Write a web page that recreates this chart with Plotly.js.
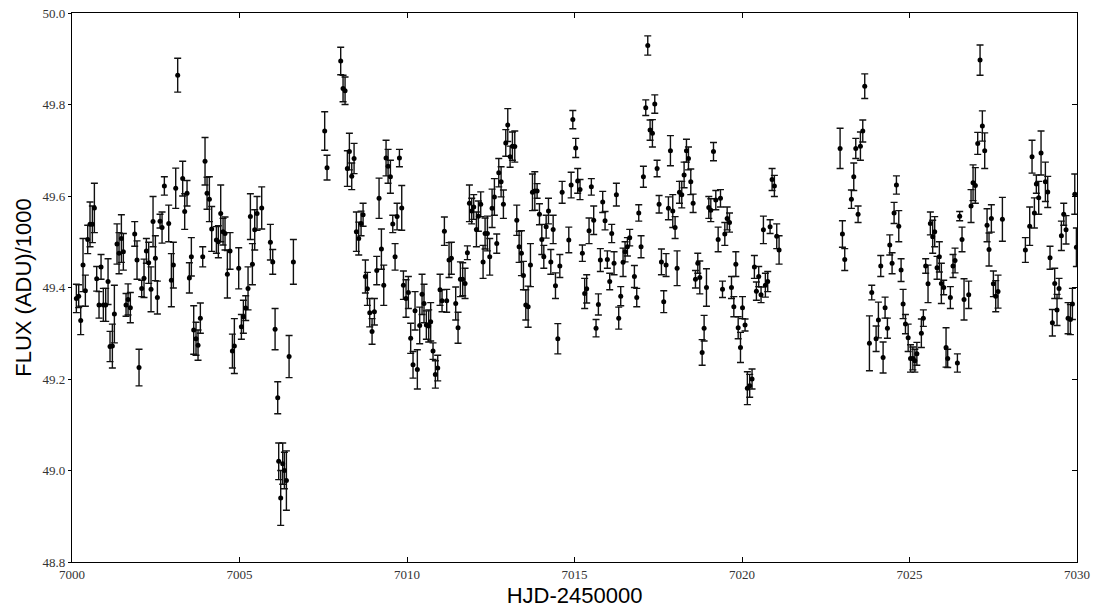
<!DOCTYPE html>
<html>
<head>
<meta charset="utf-8">
<script src="https://cdn.plot.ly/plotly-3.0.1.min.js"></script>
<style>html,body{margin:0;padding:0;background:#fff;}#chart{width:1094px;height:610px;}</style>
</head>
<body>
<div id="chart"></div>
<script>
// HJD-2450000
const hjd = [
7000.130,7000.200,7000.260,7000.329,7000.399,7000.469,7000.538,7000.608,7000.668,7000.737,
7000.807,7000.867,7000.936,7001.006,7001.076,7001.135,7001.205,7001.265,7001.344,7001.404,
7001.474,7001.533,7001.613,7001.673,7001.742,7001.872,7001.941,7002.001,7002.081,7002.150,
7002.220,7002.290,7002.359,7002.419,7002.489,7002.549,7002.628,7002.688,7002.757,7002.887,
7002.966,7003.026,7003.096,7003.155,7003.304,7003.364,7003.434,7003.503,7003.563,7003.633,
7003.702,7003.762,7003.832,7003.902,7003.971,7004.031,7004.101,7004.170,7004.310,7004.369,
7004.439,7004.509,7004.568,7004.638,7004.718,7004.788,7004.847,
7004.976,7005.056,7005.116,7005.186,7005.255,7005.325,7005.385,7005.454,7005.524,7005.663,
7005.922,7005.992,7006.062,7006.141,7006.17,7006.23,7006.29,7006.34,7006.40,7006.480,7006.609,
7007.543,7007.613,7008.021,7008.091,7008.151,7008.220,7008.280,7008.350,7008.420,7008.489,
7008.559,7008.629,7008.689,7008.758,7008.818,7008.888,7008.957,7009.027,7009.097,7009.166,
7009.236,7009.306,7009.375,7009.435,7009.505,7009.575,7009.644,7009.704,7009.774,7009.843,7009.893,
7009.971,7010.041,7010.110,7010.180,7010.240,7010.309,7010.379,7010.449,7010.508,7010.578,
7010.648,7010.707,7010.777,7010.847,7010.917,7010.986,7011.046,7011.116,7011.185,7011.255,
7011.325,7011.454,7011.524,7011.594,7011.663,7011.733,7011.803,7011.863,7011.932,7011.992,
7012.072,7012.131,7012.201,7012.271,7012.331,7012.400,7012.470,7012.540,7012.609,7012.679,
7012.739,7012.809,7012.878,7012.948,7013.008,7013.078,7013.147,7013.217,7013.277,7013.347,
7013.416,7013.476,7013.546,7013.616,7013.685,7013.745,7013.815,7013.884,7013.954,7014.024,
7014.084,7014.154,7014.223,7014.293,7014.363,7014.432,7014.502,7014.562,7014.631,7014.830,
7014.900,7014.950,
7015.036,7015.095,7015.165,7015.235,7015.304,7015.364,7015.434,7015.503,7015.573,7015.643,
7015.713,7015.772,7015.842,7015.912,7015.981,7016.051,7016.111,7016.181,7016.250,7016.320,
7016.380,7016.450,7016.509,7016.579,7016.649,7016.788,7016.858,7016.918,7016.987,7017.057,
7017.127,7017.187,7017.256,7017.326,7017.396,7017.465,7017.525,7017.595,7017.664,7017.734,
7017.804,7017.864,7017.933,7018.003,7018.063,7018.133,7018.202,7018.272,7018.342,7018.402,
7018.471,7018.541,7018.611,7018.680,7018.740,7018.810,7018.869,7018.939,7019.009,7019.069,
7019.149,7019.218,7019.288,7019.358,7019.418,7019.487,7019.557,7019.627,7019.686,7019.756,
7019.816,7019.886,7019.955,7020.015,
7020.091,7020.160,7020.230,7020.300,7020.370,7020.430,7020.499,7020.569,7020.639,7020.698,
7020.768,7020.838,7020.898,7020.967,7021.037,7021.107,
7022.928,7022.998,7023.067,7023.266,7023.336,7023.396,7023.465,7023.535,7023.605,7023.664,
7023.804,7023.873,7024.003,7024.072,7024.142,7024.212,7024.271,7024.341,7024.411,7024.480,
7024.540,7024.610,7024.680,7024.749,7024.809,7024.879,7024.960,7025.030,7025.10,7025.16,7025.22,
7025.354,7025.414,7025.483,7025.553,7025.623,7025.692,7025.752,7025.822,7025.891,7025.951,
7026.021,7026.091,7026.14,7026.220,7026.299,7026.359,7026.43,7026.498,7026.568,7026.628,
7026.767,7026.837,7026.897,7026.966,7027.036,7027.106,7027.175,7027.245,7027.315,7027.374,
7027.444,7027.504,7027.574,7027.643,7027.773,
7028.459,7028.588,7028.658,7028.728,7028.787,7028.857,7028.927,7029.056,7029.126,7029.195,
7029.265,7029.335,7029.404,7029.464,7029.534,7029.604,7029.673,7029.733,7029.803,7029.863,
7029.933,7029.982
];

// FLUX (ADU)/1000
const flux = [
49.376,49.381,49.328,49.449,49.393,49.505,49.538,49.538,49.574,49.419,
49.362,49.445,49.362,49.362,49.413,49.271,49.272,49.342,49.495,49.475,
49.507,49.478,49.362,49.374,49.356,49.517,49.460,49.225,49.398,49.420,
49.480,49.454,49.396,49.544,49.464,49.378,49.545,49.531,49.622,49.540,
49.416,49.449,49.617,49.864,49.638,49.566,49.606,49.421,49.467,49.307,
49.288,49.274,49.333,49.467,49.676,49.606,49.593,49.528,49.504,49.500,
49.562,49.522,49.518,49.429,49.480,49.261,49.272,
49.442,49.314,49.336,49.355,49.398,49.555,49.451,49.526,49.562,49.574,
49.499,49.456,49.309,49.159,49.020,48.940,49.015,49.000,48.978,49.249,49.456,
49.742,49.662,49.895,49.835,49.830,49.660,49.697,49.643,49.682,49.522,
49.507,49.540,49.559,49.424,49.397,49.345,49.304,49.347,49.437,49.595,
49.484,49.405,49.683,49.665,49.642,49.539,49.467,49.555,49.683,49.574,49.405,
49.376,49.389,49.289,49.231,49.349,49.221,49.317,49.385,49.365,49.318,
49.316,49.325,49.261,49.210,49.224,49.395,49.371,49.523,49.371,49.460,
49.464,49.365,49.312,49.418,49.418,49.409,49.476,49.584,49.567,49.576,
49.527,49.556,49.582,49.456,49.518,49.518,49.467,49.573,49.598,49.496,
49.651,49.631,49.582,49.716,49.755,49.686,49.709,49.708,49.547,49.489,
49.475,49.426,49.362,49.358,49.449,49.608,49.611,49.611,49.560,49.505,
49.467,49.533,49.567,49.456,49.527,49.404,49.288,49.447,49.608,49.504,
49.624,49.767,
49.705,49.633,49.614,49.475,49.387,49.397,49.524,49.620,49.547,49.311,
49.363,49.460,49.587,49.546,49.461,49.413,49.518,49.453,49.603,49.333,
49.381,49.455,49.478,49.489,49.509,49.424,49.378,49.563,49.489,49.642,
49.793,49.929,49.744,49.737,49.801,49.660,49.582,49.456,49.369,49.449,
49.573,49.699,49.567,49.531,49.442,49.608,49.603,49.646,49.699,49.682,
49.631,49.584,49.418,49.453,49.422,49.258,49.311,49.400,49.575,49.569,
49.697,49.591,49.505,49.595,49.396,49.517,49.551,49.542,49.400,49.358,
49.451,49.312,49.269,49.356,
49.318,49.180,49.185,49.200,49.445,49.392,49.424,49.384,49.526,49.405,
49.413,49.533,49.636,49.622,49.512,49.482,
49.704,49.517,49.461,49.593,49.642,49.704,49.560,49.709,49.742,49.840,
49.278,49.389,49.288,49.329,49.447,49.247,49.356,49.311,49.493,49.453,
49.563,49.624,49.534,49.438,49.364,49.320,49.290,49.245,49.245,49.240,49.255,
49.300,49.333,49.447,49.408,49.540,49.511,49.522,49.443,49.467,49.409,
49.400,49.269,49.245,49.378,49.447,49.459,49.235,49.556,49.505,49.374,
49.384,49.578,49.629,49.623,49.715,49.897,49.753,49.699,49.536,49.483,
49.551,49.408,49.381,49.391,49.549,
49.482,49.534,49.686,49.563,49.626,49.596,49.694,49.631,49.609,49.465,
49.323,49.409,49.351,49.398,49.513,49.560,49.526,49.333,49.330,49.364,
49.604,49.488
];

// 1-sigma uncertainty
const fluxErr = [
0.031,0.025,0.031,0.058,0.034,0.031,0.049,0.040,0.054,0.027,
0.029,0.027,0.036,0.036,0.050,0.033,0.048,0.063,0.044,0.045,
0.052,0.040,0.025,0.034,0.033,0.027,0.042,0.040,0.018,0.042,
0.027,0.045,0.049,0.055,0.049,0.036,0.015,0.034,0.020,0.040,
0.058,0.050,0.044,0.037,0.038,0.039,0.028,0.033,0.042,0.053,
0.036,0.033,0.033,0.022,0.052,0.035,0.049,0.049,0.029,0.035,
0.062,0.029,0.036,0.052,0.040,0.037,0.060,
0.045,0.027,0.036,0.027,0.047,0.050,0.045,0.044,0.037,0.046,
0.039,0.027,0.045,0.035,0.040,0.060,0.045,0.040,0.065,0.046,0.049,
0.042,0.027,0.030,0.029,0.030,0.039,0.040,0.029,0.033,0.043,
0.036,0.027,0.025,0.036,0.036,0.031,0.028,0.029,0.031,0.044,
0.044,0.044,0.039,0.037,0.036,0.019,0.029,0.029,0.019,0.049,0.031,
0.041,0.035,0.033,0.029,0.042,0.043,0.040,0.044,0.042,0.031,
0.035,0.042,0.018,0.030,0.028,0.034,0.024,0.031,0.025,0.038,
0.035,0.036,0.034,0.038,0.036,0.033,0.015,0.040,0.028,0.027,
0.038,0.033,0.027,0.036,0.034,0.038,0.040,0.042,0.040,0.021,
0.031,0.033,0.031,0.029,0.036,0.023,0.031,0.034,0.033,0.034,
0.049,0.031,0.033,0.045,0.047,0.040,0.042,0.016,0.023,0.033,
0.025,0.025,0.028,0.027,0.031,0.028,0.033,0.025,0.024,0.028,
0.028,0.020,
0.021,0.027,0.022,0.018,0.033,0.031,0.028,0.018,0.031,0.019,
0.023,0.025,0.023,0.020,0.019,0.018,0.020,0.025,0.025,0.024,
0.021,0.031,0.022,0.020,0.018,0.024,0.020,0.018,0.024,0.023,
0.017,0.021,0.022,0.030,0.020,0.018,0.019,0.028,0.024,0.025,
0.025,0.033,0.036,0.024,0.038,0.024,0.029,0.028,0.025,0.025,
0.028,0.020,0.019,0.022,0.036,0.028,0.028,0.041,0.024,0.025,
0.020,0.021,0.027,0.019,0.018,0.025,0.025,0.021,0.024,0.022,
0.027,0.024,0.033,0.024,
0.013,0.036,0.025,0.022,0.025,0.020,0.022,0.017,0.030,0.026,
0.022,0.015,0.024,0.023,0.027,0.031,
0.044,0.029,0.024,0.020,0.030,0.022,0.018,0.031,0.024,0.027,
0.060,0.016,0.028,0.039,0.023,0.034,0.023,0.022,0.022,0.023,
0.023,0.020,0.034,0.025,0.032,0.021,0.030,0.030,0.025,0.025,0.025,
0.031,0.018,0.016,0.041,0.025,0.036,0.033,0.025,0.033,0.044,
0.016,0.043,0.020,0.024,0.025,0.027,0.020,0.010,0.027,0.045,
0.030,0.036,0.039,0.039,0.024,0.033,0.033,0.039,0.036,0.036,
0.030,0.028,0.034,0.036,0.048,
0.027,0.042,0.036,0.033,0.020,0.036,0.048,0.043,0.034,0.025,
0.029,0.033,0.034,0.022,0.032,0.024,0.031,0.034,0.033,0.034,
0.044,0.042
];

const xTicks = [7000, 7005, 7010, 7015, 7020, 7025, 7030];
const yTicks = [48.8, 49.0, 49.2, 49.4, 49.6, 49.8, 50.0];

const tickFont = {family: 'Liberation Serif, DejaVu Serif, serif', size: 13, color: '#333'};
const titleFont = {family: 'Liberation Sans, Arial, sans-serif', size: 22, color: '#000'};

const traces = [
  {
    x: hjd, y: flux, type: 'scatter', mode: 'markers',
    marker: {color: '#000', size: 5},
    error_y: {type: 'data', array: fluxErr, visible: true, color: '#111', thickness: 1.4, width: 3.5},
    hoverinfo: 'x+y', showlegend: false
  },
  {x: [], y: [], yaxis: 'y2', xaxis: 'x2', type: 'scatter', mode: 'markers', showlegend: false}
];

const layout = {
  width: 1094, height: 610,
  margin: {l: 72, r: 17, t: 13, b: 48, pad: 0},
  paper_bgcolor: '#fff', plot_bgcolor: '#fff',
  showlegend: false,
  xaxis: {
    range: [7000, 7030], tickvals: xTicks, ticktext: xTicks.map(String),
    showgrid: false, zeroline: false,
    showline: true, linecolor: '#000', linewidth: 1.2, mirror: true,
    ticks: 'inside', ticklen: 5, tickwidth: 1, tickcolor: '#000',
    tickfont: tickFont,
    title: {text: 'HJD-2450000', font: titleFont, standoff: 6}
  },
  xaxis2: {
    range: [7000, 7030], overlaying: 'x', side: 'top', tickvals: xTicks,
    showticklabels: false, ticks: 'inside', ticklen: 5, tickcolor: '#000',
    showgrid: false, zeroline: false, showline: false
  },
  yaxis: {
    range: [48.8, 50.0], tickvals: yTicks, ticktext: yTicks.map(v => v.toFixed(1)),
    showgrid: false, zeroline: false,
    showline: true, linecolor: '#000', linewidth: 1.2, mirror: true,
    ticks: 'outside', ticklen: 3, tickwidth: 1, tickcolor: '#000',
    tickfont: tickFont,
    title: {text: 'FLUX (ADU)/1000', font: titleFont, standoff: 4}
  },
  yaxis2: {
    range: [48.8, 50.0], overlaying: 'y', side: 'right', tickvals: yTicks,
    showticklabels: false, ticks: 'inside', ticklen: 5, tickcolor: '#000',
    showgrid: false, zeroline: false, showline: false
  }
};

Plotly.newPlot('chart', traces, layout, {displayModeBar: false, staticPlot: true});
</script>
</body>
</html>
